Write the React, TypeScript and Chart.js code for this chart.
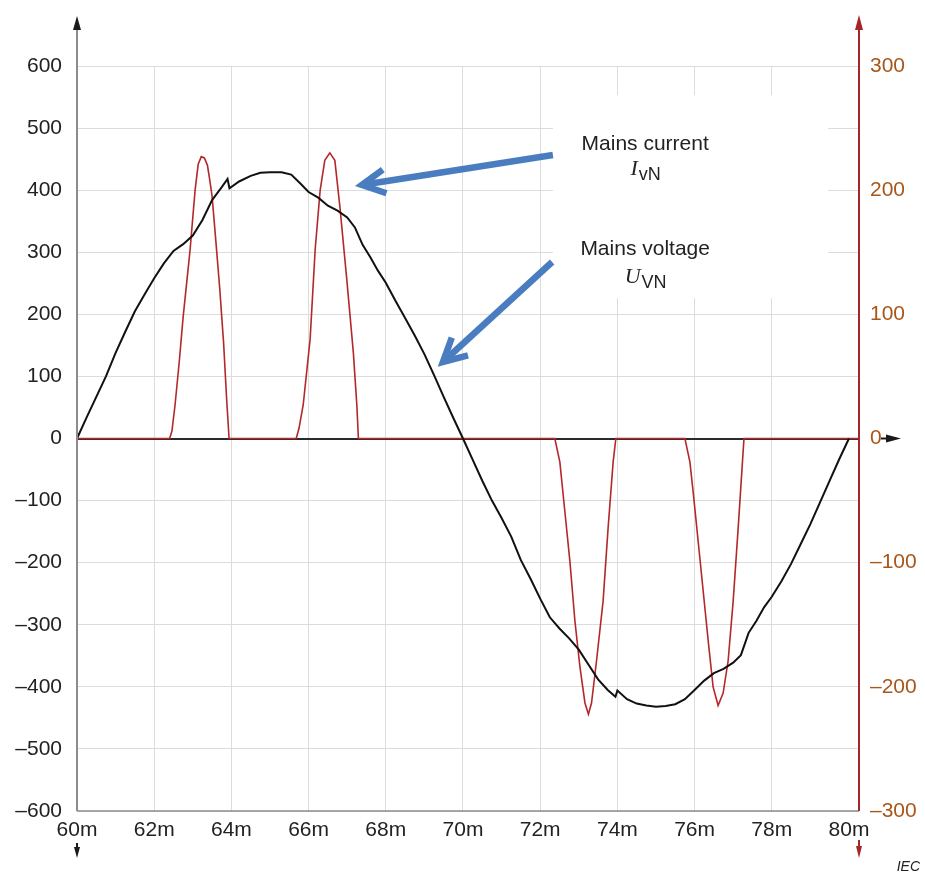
import React, { useEffect, useRef } from 'react';
import { Chart, registerables } from 'chart.js';

Chart.register(...registerables);

// ---- Data (time in ms) ----
const voltageTime = [
  60.0, 60.25, 60.5, 60.75, 61.0, 61.25, 61.5, 61.75, 62.0, 62.25, 62.5, 62.75, 63.0, 63.25, 63.5, 63.75, 63.9, 63.95,
  64.2, 64.5, 64.75, 65.0, 65.3, 65.55, 65.8, 66.0, 66.25, 66.5, 66.75, 67.0, 67.2, 67.4, 67.6, 67.8, 68.0, 68.25,
  68.5, 68.75, 69.0, 69.25, 69.5, 69.75, 70.0, 70.25, 70.5, 70.75, 71.0, 71.25, 71.5, 71.75, 72.0, 72.25, 72.5,
  72.75, 73.0, 73.25, 73.5, 73.75, 73.95, 74.0, 74.25, 74.5, 74.75, 75.0, 75.25, 75.5, 75.75, 76.0, 76.25, 76.5,
  76.75, 77.0, 77.2, 77.4, 77.6, 77.8, 78.0, 78.25, 78.5, 78.75, 79.0, 79.25, 79.5, 79.75, 80.0,
];
const voltageValues = [
  0, 34, 67, 100, 138, 172, 205, 232, 258, 282, 302, 313, 327, 352, 384, 405, 418, 403,
  414, 423, 428, 429, 429, 425, 410, 397, 388, 375, 367, 356, 340, 312, 292, 270, 251, 222,
  194, 166, 136, 102, 67, 33, 0, -34, -68, -100, -128, -158, -196, -226, -258, -288, -306,
  -322, -340, -364, -388, -405, -416, -406, -420, -427, -430, -432, -431, -428, -420, -405, -390, -378,
  -371, -361, -349, -313, -294, -272, -255, -230, -202, -170, -138, -103, -68, -33, 0,
];

const currentTime = [
  60.0, 62.4, 62.46, 62.54, 62.65, 62.75, 62.85, 62.93, 63.0, 63.06, 63.14, 63.22, 63.3, 63.38, 63.44, 63.5, 63.6,
  63.7, 63.8, 63.88, 63.94,
  65.68, 65.75, 65.86, 66.04, 66.17, 66.3, 66.42, 66.55, 66.68, 66.81, 66.99, 67.16, 67.25, 67.29,
  72.38, 72.51, 72.64, 72.77, 72.9, 73.03, 73.16, 73.25, 73.33, 73.46, 73.63, 73.76, 73.89, 73.96,
  75.75, 75.88, 75.97, 76.1, 76.23, 76.36, 76.48, 76.61, 76.74, 76.87, 77.0, 77.13, 77.24, 77.28,
  80.26,
];
const currentValues = [
  0, 0, 6, 27, 62, 98, 128, 152, 178, 200, 221, 227, 226, 220, 208, 195, 158,
  120, 76, 30, 0,
  0, 8, 27, 80, 152, 200, 224, 230, 224, 187, 128, 69, 27, 0,
  0, -19, -59, -99, -147, -184, -213, -222, -213, -179, -131, -72, -19, 0,
  0, -19, -45, -85, -125, -165, -200, -215, -205, -179, -131, -72, -19, 0,
  0,
];

const xMin = 60;
const xMax = 80.26;
const xStep = 2;
const leftMin = -600;
const leftMax = 600;
const rightMin = -300;
const rightMax = 300;
const yStep = 100;

const currentLabel = 'Mains current';
const voltageLabel = 'Mains voltage';

const FONT = '"Liberation Sans", Arial, Helvetica, sans-serif';
const SERIF = '"Liberation Serif", "Times New Roman", serif';

const fmtSigned = (v: number) => (v < 0 ? '\u2013' + Math.abs(v) : String(v));

const decorPlugin = {
  id: 'decor',
  beforeDatasetsDraw(chart: any) {
    const { ctx, scales } = chart;
    const xs = scales.x;
    const yl = scales.y;
    // white box behind the annotation text
    const x1 = xs.getPixelForValue(72.33);
    const x2 = xs.getPixelForValue(79.46);
    const y1 = yl.getPixelForValue(553);
    const y2 = yl.getPixelForValue(226);
    ctx.save();
    ctx.fillStyle = '#ffffff';
    ctx.fillRect(x1, y1, x2 - x1, y2 - y1);
    ctx.restore();
  },
  afterDraw(chart: any) {
    const { ctx, chartArea: a, scales } = chart;
    const xs = scales.x;
    const yl = scales.y;
    const px = (t: number) => xs.getPixelForValue(t);
    const py = (v: number) => yl.getPixelForValue(v);
    const y0 = py(0);

    const line = (xa: number, ya: number, xb: number, yb: number) => {
      ctx.beginPath();
      ctx.moveTo(xa, ya);
      ctx.lineTo(xb, yb);
      ctx.stroke();
    };
    const tri = (p: number[][], color: string) => {
      ctx.fillStyle = color;
      ctx.beginPath();
      ctx.moveTo(p[0][0], p[0][1]);
      ctx.lineTo(p[1][0], p[1][1]);
      ctx.lineTo(p[2][0], p[2][1]);
      ctx.closePath();
      ctx.fill();
    };

    ctx.save();
    // bottom x axis line
    ctx.strokeStyle = '#8c8c8c';
    ctx.lineWidth = 1.5;
    line(a.left, a.bottom, a.right, a.bottom);

    // left axis
    ctx.strokeStyle = '#8c8c8c';
    ctx.lineWidth = 2;
    line(a.left, a.top - 38, a.left, a.bottom);
    tri([[a.left, a.top - 50], [a.left - 4, a.top - 36], [a.left + 4, a.top - 36]], '#1a1a1a');
    // left bottom small arrow
    ctx.strokeStyle = '#1a1a1a';
    line(a.left, a.bottom + 32, a.left, a.bottom + 38);
    tri([[a.left, a.bottom + 47], [a.left - 3, a.bottom + 36], [a.left + 3, a.bottom + 36]], '#1a1a1a');

    // right axis (red)
    const rc = '#a3262a';
    ctx.strokeStyle = rc;
    ctx.lineWidth = 2;
    line(a.right, a.top - 36, a.right, a.bottom);
    tri([[a.right, a.top - 51], [a.right - 4, a.top - 36], [a.right + 4, a.top - 36]], rc);
    line(a.right, a.bottom + 29, a.right, a.bottom + 36);
    tri([[a.right, a.bottom + 47], [a.right - 3, a.bottom + 35], [a.right + 3, a.bottom + 35]], rc);

    // zero arrow on the right
    ctx.strokeStyle = '#1a1a1a';
    ctx.lineWidth = 2;
    line(a.right + 22, y0, a.right + 28, y0);
    tri([[a.right + 42, y0], [a.right + 27, y0 - 4], [a.right + 27, y0 + 4]], '#1a1a1a');

    // annotation texts
    const cx = px(74.72);
    ctx.fillStyle = '#222222';
    ctx.textBaseline = 'alphabetic';
    ctx.textAlign = 'center';
    ctx.font = `21px ${FONT}`;
    ctx.fillText(currentLabel, cx, py(464.7));
    ctx.fillText(voltageLabel, cx, py(295.6));

    const symbol = (main: string, sub: string, baseV: number) => {
      ctx.textAlign = 'left';
      ctx.font = `italic 22px ${SERIF}`;
      const w1 = ctx.measureText(main).width;
      ctx.font = `18px ${FONT}`;
      const w2 = ctx.measureText(sub).width;
      const start = cx - (w1 + w2) / 2;
      const by = py(baseV);
      ctx.font = `italic 22px ${SERIF}`;
      ctx.fillText(main, start, by);
      ctx.font = `18px ${FONT}`;
      ctx.fillText(sub, start + w1 + 1, by + 5);
    };
    symbol('I', 'vN', 424.5);
    symbol('U', 'VN', 250.5);

    // blue arrows
    const arrow = (tx: number, ty: number, hx: number, hy: number) => {
      const x1 = px(tx), y1 = py(ty), x2 = px(hx), y2 = py(hy);
      const ang = Math.atan2(y1 - y2, x1 - x2);
      const L = 26;
      const da = 0.48;
      ctx.strokeStyle = '#4a7dc0';
      ctx.lineWidth = 6.5;
      ctx.lineCap = 'butt';
      ctx.lineJoin = 'miter';
      ctx.beginPath();
      ctx.moveTo(x1, y1);
      ctx.lineTo(x2 + Math.cos(ang) * 3, y2 + Math.sin(ang) * 3);
      ctx.stroke();
      ctx.beginPath();
      ctx.moveTo(x2 + Math.cos(ang - da) * L, y2 + Math.sin(ang - da) * L);
      ctx.lineTo(x2, y2);
      ctx.lineTo(x2 + Math.cos(ang + da) * L, y2 + Math.sin(ang + da) * L);
      ctx.stroke();
    };
    arrow(72.33, 456.7, 67.38, 408.3);
    arrow(72.31, 284.3, 69.48, 123.2);

    // IEC
    ctx.fillStyle = '#222222';
    ctx.textAlign = 'right';
    ctx.font = `italic 14px ${FONT}`;
    ctx.fillText('IEC', 920, 871);
    ctx.restore();
  },
};

export default function App() {
  const canvasRef = useRef<HTMLCanvasElement | null>(null);

  useEffect(() => {
    const canvas = canvasRef.current;
    if (!canvas) return;
    const voltagePts = voltageTime.map((t, i) => ({ x: t, y: voltageValues[i] }));
    const currentPts = currentTime.map((t, i) => ({ x: t, y: currentValues[i] }));

    const tickFont = { family: FONT, size: 21 };

    const chart = new Chart(canvas, {
      type: 'line',
      data: {
        datasets: [
          {
            label: 'Mains voltage UVN',
            data: voltagePts,
            yAxisID: 'y',
            borderColor: '#111111',
            borderWidth: 2,
            pointRadius: 0,
            tension: 0,
          },
          {
            label: 'Mains current IvN',
            data: currentPts,
            yAxisID: 'yR',
            borderColor: '#b3282b',
            borderWidth: 1.6,
            pointRadius: 0,
            tension: 0,
          },
        ],
      },
      options: {
        responsive: false,
        animation: false,
        layout: { padding: { top: 66, left: 0, right: 0, bottom: 0 } },
        plugins: {
          legend: { display: false },
          tooltip: { enabled: false },
        },
        scales: {
          x: {
            type: 'linear',
            min: xMin,
            max: xMax,
            ticks: {
              stepSize: xStep,
              includeBounds: false,
              autoSkip: false,
              maxRotation: 0,
              padding: 7,
              color: '#222222',
              font: tickFont,
              callback: (v: any) => `${v}m`,
            },
            grid: {
              drawTicks: false,
              lineWidth: 1,
              color: (c: any) => {
                const v = c.tick ? c.tick.value : null;
                if (v === xMin || v === 80) return 'rgba(0,0,0,0)';
                return '#dcdcdc';
              },
            },
            border: { display: false },
            afterFit: (s: any) => {
              s.height = 62;
            },
          },
          y: {
            position: 'left',
            min: leftMin,
            max: leftMax,
            ticks: {
              stepSize: yStep,
              padding: 15,
              color: '#222222',
              font: tickFont,
              callback: (v: any) => fmtSigned(Number(v)),
            },
            grid: {
              drawTicks: false,
              color: (c: any) => (c.tick && c.tick.value === 0 ? '#2a2a2a' : '#dcdcdc'),
              lineWidth: (c: any) => (c.tick && c.tick.value === 0 ? 2 : 1),
            },
            border: { display: false },
            afterFit: (s: any) => {
              s.width = 77;
            },
          },
          yR: {
            position: 'right',
            min: rightMin,
            max: rightMax,
            ticks: {
              stepSize: yStep,
              padding: 11,
              color: '#a9561a',
              font: tickFont,
              callback: (v: any) => fmtSigned(Number(v)),
            },
            grid: { display: false, drawTicks: false },
            border: { display: false },
            afterFit: (s: any) => {
              s.width = 66;
            },
          },
        },
      },
      plugins: [decorPlugin],
    } as any);

    return () => chart.destroy();
  }, []);

  return (
    <div style={{ position: 'fixed', left: 0, top: 0, width: 925, height: 873, background: '#fff' }}>
      <canvas ref={canvasRef} width={925} height={873} style={{ display: 'block' }} />
    </div>
  );
}
